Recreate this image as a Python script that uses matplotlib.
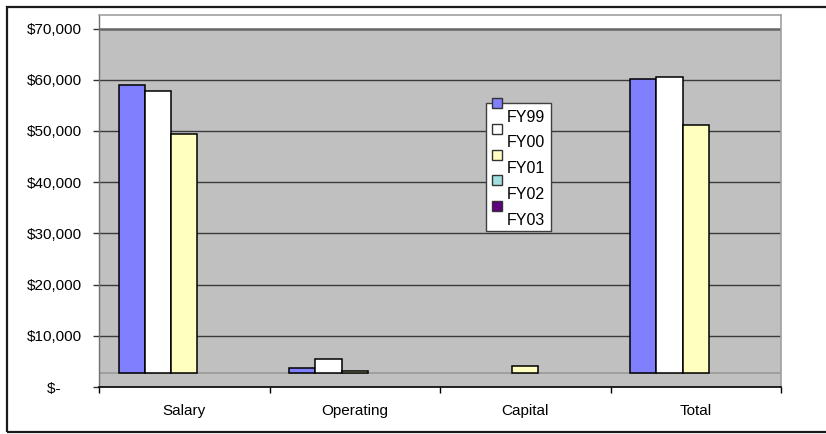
import numpy as np
import matplotlib
matplotlib.use("Agg")
import matplotlib.pyplot as plt
from matplotlib.patches import Rectangle
from matplotlib.ticker import FuncFormatter

plt.rcParams['font.family'] = ['Liberation Sans', 'DejaVu Sans']

# data (dollars)
categories = ["Salary", "Operating", "Capital", "Total"]
series = ["FY99", "FY00", "FY01", "FY02", "FY03"]
fy99 = [56260, 1030, 0, 57430]
fy00 = [55090, 2790, 0, 57960]
fy01 = [46840, 450, 1425, 48510]
fy02 = [0, 0, 0, 0]
fy03 = [0, 0, 0, 0]
colors = ["#8080FF", "#FFFFFF", "#FFFFC0", "#A0E0E0", "#600080"]
yticks = [0, 10000, 20000, 30000, 40000, 50000, 60000, 70000]

DEPTH = 2650   # 3-D floor offset of the old Excel chart
W, H = 826, 434

def fx(x):
    return x / W

def fy(y):
    return 1 - y / H

fig = plt.figure(figsize=(W / 100, H / 100), dpi=100)
fig.patch.set_facecolor("white")

# outer chart frame
fig.patches.append(Rectangle((fx(7), fy(432)), fx(830) - fx(7), fy(7) - fy(432),
                             transform=fig.transFigure, fill=False,
                             edgecolor="#1a1a1a", lw=1.6))

ax = fig.add_axes([fx(99), fy(387), fx(781) - fx(99), fy(15) - fy(387)])
ax.set_facecolor("white")
ax.set_xlim(-0.5, 3.5)
ax.set_ylim(0, 70000 + DEPTH)

# back wall + floor
ax.axhspan(0, 70000, color="#C0C0C0", zorder=0)
ax.axhline(DEPTH, color="#999999", lw=1.2, zorder=1)
for v in yticks[1:-1]:
    ax.axhline(v, color="#3a3a3a", lw=1.0, zorder=1)
ax.axhline(70000, color="#666666", lw=1.8, zorder=1)

x = np.arange(len(categories))
bw = 1 / 6.5
data = [fy99, fy00, fy01, fy02, fy03]
for i, (vals, c) in enumerate(zip(data, colors)):
    vals = np.array(vals, dtype=float)
    m = vals > 0
    ax.bar(x[m] + (i - 2) * bw, vals[m], width=bw, bottom=DEPTH,
           color=c, edgecolor="black", lw=1.1, zorder=3)

# axes styling
for s in ["top", "right"]:
    ax.spines[s].set_color("#A0A0A0")
    ax.spines[s].set_linewidth(1.2)
ax.spines["left"].set_color("#707070")
ax.spines["left"].set_linewidth(1.0)
ax.spines["bottom"].set_color("black")
ax.spines["bottom"].set_linewidth(1.2)
ax.spines["bottom"].set_position(("data", 0))

ax.set_yticks(yticks)
ax.yaxis.set_major_formatter(FuncFormatter(
    lambda v, p: "$-     " if v == 0 else f"${v:,.0f}"))
ax.tick_params(axis="y", length=4.5, width=1, color="#333333", pad=8,
               labelsize=11)

ax.set_xticks([-0.5, 0.5, 1.5, 2.5, 3.5])
ax.set_xticklabels([])
ax.set_xticks(x, minor=True)
ax.set_xticklabels(categories, minor=True)
ax.tick_params(axis="x", which="major", length=4.5, width=1, color="black")
ax.tick_params(axis="x", which="minor", length=0, pad=12, labelsize=11)

# legend (drawn Excel-style: swatch above each label)
fig.patches.append(Rectangle((fx(486), fy(231)), fx(551) - fx(486), fy(103) - fy(231),
                             transform=fig.transFigure, facecolor="white",
                             edgecolor="#404040", lw=1.0, zorder=5))
for i, (name, c) in enumerate(zip(series, colors)):
    cy = 103 + i * 25.8
    fig.patches.append(Rectangle((fx(492), fy(cy + 5)), fx(10), 10 / H,
                                 transform=fig.transFigure, facecolor=c,
                                 edgecolor="#333333", lw=1.0, zorder=6))
    fig.text(fx(507), fy(cy + 14), name, fontsize=11.5, ha="left",
             va="center", zorder=7)

fig.savefig("out.png", dpi=100)
